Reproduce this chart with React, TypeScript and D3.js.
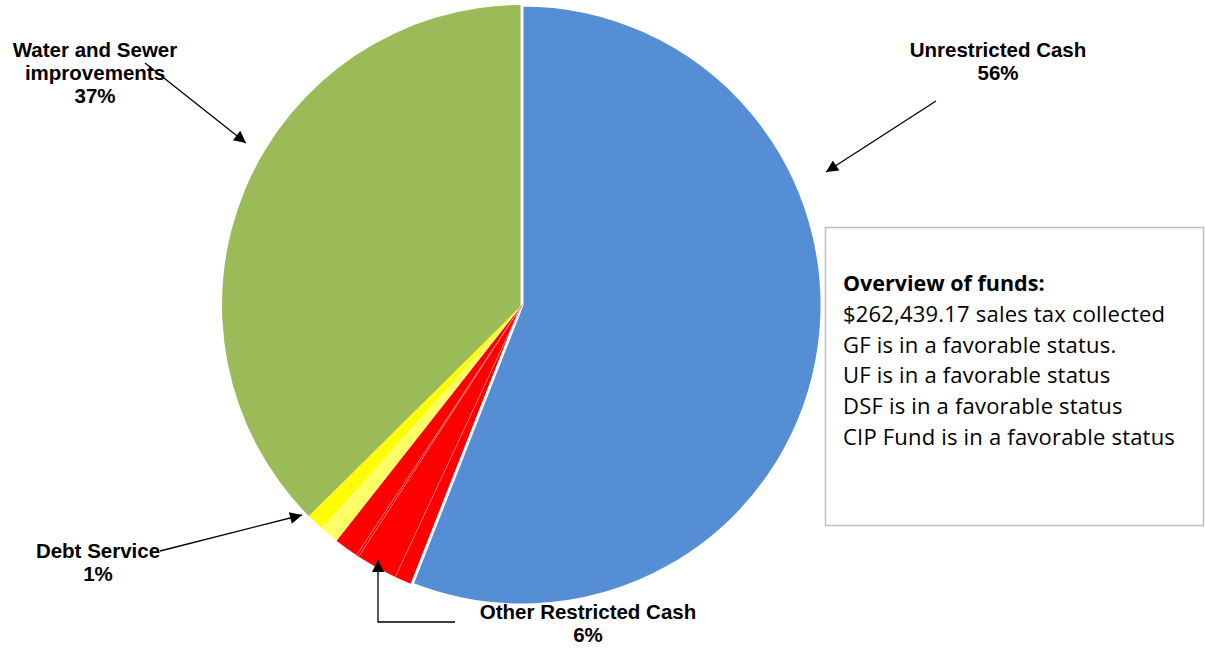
import React from "react";
import * as d3 from "d3";

// Slice data, clockwise from 12 o'clock (percent of total)
const sliceNames = [
  "Unrestricted Cash",
  "Other Restricted Cash 1",
  "Other Restricted Cash 2",
  "Other Restricted Cash 3",
  "Other Restricted Cash 4",
  "Other Restricted Cash 5",
  "Debt Service",
  "Water and Sewer improvements",
];
const sliceValues = [55.97, 0.97, 2.22, 0.14, 1.31, 1.03, 0.94, 37.42];
const sliceColors = ["#558ed5", "#ff0000", "#ff0000", "#ff0000", "#ff0000", "#ffff66", "#ffff00", "#9bbb59"];

// Callout labels
const calloutLines = [
  { lines: ["Unrestricted Cash", "56%"], x: 998, y: 57 },
  { lines: ["Water and Sewer", "improvements", "37%"], x: 95, y: 57 },
  { lines: ["Debt Service", "1%"], x: 98, y: 558 },
  { lines: ["Other Restricted Cash", "6%"], x: 588, y: 619 },
];

const overviewTitle = "Overview of funds:";
const overviewLines = [
  "$262,439.17 sales tax collected",
  "GF is in a favorable status.",
  "UF is in a favorable status",
  "DSF is in a favorable status",
  "CIP Fund is in a favorable status",
];

export default function App() {
  const W = 1205, H = 650;
  const cx = 522, cy = 305, R = 300;
  const pie = d3.pie<number>().sort(null).value((d) => d);
  const arcs = pie(sliceValues);
  const arc = d3.arc<d3.PieArcDatum<number>>().innerRadius(0).outerRadius(R);

  const redIdx = [2, 3, 4];
  const labelFont = "'Liberation Sans', Arial, sans-serif";
  const boxFont = "'Open Sans', Lato, sans-serif";

  return (
    <svg width={W} height={H} style={{ position: "absolute", left: 0, top: 0, background: "#fff" }}>
      <defs>
        <marker id="ahBig" viewBox="0 0 12 12" refX="12" refY="6" markerWidth="14" markerHeight="12"
          markerUnits="userSpaceOnUse" orient="auto">
          <path d="M0,0 L12,6 L0,12 Z" fill="#000" />
        </marker>
      </defs>
      <g transform={`translate(${cx},${cy})`}>
        {arcs.map((a, i) => (
          <path key={sliceNames[i]} d={arc(a) || ""} fill={sliceColors[i]} />
        ))}
        <path d={arc(arcs[0]) || ""} fill="none" stroke="#fff" strokeWidth={3} />
        {redIdx.map((i) => {
          const ang = arcs[i].startAngle;
          return (
            <line key={"sep" + i} x1={0} y1={0} x2={R * Math.sin(ang)} y2={-R * Math.cos(ang)}
              stroke="#ff8080" strokeWidth={0.8} />
          );
        })}
      </g>

      {/* callout arrows */}
      <line x1={936} y1={101} x2={826} y2={172} stroke="#000" strokeWidth={1.3} markerEnd="url(#ahBig)" />
      <line x1={145} y1={63} x2={246} y2={143} stroke="#000" strokeWidth={1.3} markerEnd="url(#ahBig)" />
      <line x1={160} y1={551} x2={302} y2={515} stroke="#000" strokeWidth={1.3} markerEnd="url(#ahBig)" />
      <polyline points="455,622 378,622 378,560" fill="none" stroke="#000" strokeWidth={1.3} markerEnd="url(#ahBig)" />

      {calloutLines.map((c) => (
        <text key={c.lines[0]} x={c.x} y={c.y} textAnchor="middle" fontFamily={labelFont}
          fontWeight="bold" fontSize={20.5} fill="#000">
          {c.lines.map((l, j) => (
            <tspan key={j} x={c.x} dy={j === 0 ? 0 : 23}>{l}</tspan>
          ))}
        </text>
      ))}

      {/* overview box */}
      <rect x={825.5} y={227.5} width={378} height={298} fill="#fff" stroke="#bfbfbf" strokeWidth={1.5} />
      <text x={843} y={291} fontFamily={boxFont} fontSize={21.5} fontWeight="bold" fill="#000">{overviewTitle}</text>
      {overviewLines.map((l, j) => (
        <text key={l} x={843} y={291 + 30.8 * (j + 1)} fontFamily={boxFont} fontSize={22}
          letterSpacing={0.2} fill="#000">{l}</text>
      ))}
    </svg>
  );
}
